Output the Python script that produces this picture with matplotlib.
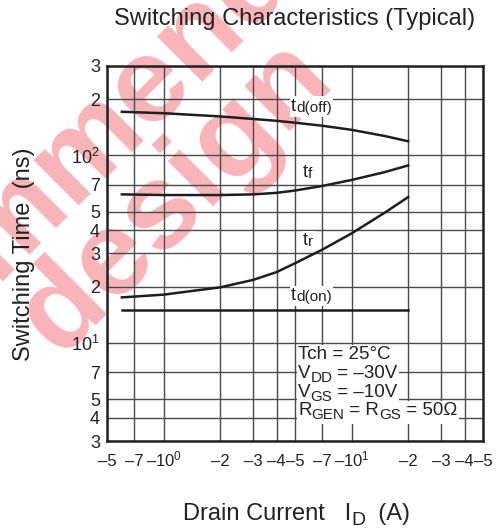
import matplotlib
matplotlib.use("Agg")
import matplotlib.pyplot as plt
from matplotlib.patches import Rectangle

plt.rcParams['font.family'] = ['Liberation Sans', 'DejaVu Sans']
plt.rcParams['mathtext.default'] = 'regular'
plt.rcParams['mathtext.fontset'] = 'custom'
plt.rcParams['mathtext.rm'] = 'Liberation Sans'

# ---------------- data ----------------
drain_current = [0.6, 1, 2, 3, 4, 5, 7, 10, 15, 20]             # |I_D| (A)
t_d_off = [171, 168, 161.5, 156.5, 153, 149.5, 144, 137, 127, 119]  # ns
t_f = [62, 61.5, 61.5, 62, 63.2, 65, 68.8, 74, 81.5, 88.5]        # ns
t_r = [17.5, 18.1, 19.8, 21.7, 23.9, 26.6, 31.5, 38.4, 49.5, 60]  # ns
drain_current_on = [0.6, 20]
t_d_on = [15, 15]

x_ticks = [0.5, 0.7, 1, 2, 3, 4, 5, 7, 10, 20, 30, 40, 50]
x_ticklabels = ['\u20135', '\u20137', '$\u201310^{0}$', '\u20132', '\u20133', '\u20134', '\u20135',
                '\u20137', '$\u201310^{1}$', '\u20132', '\u20133', '\u20134', '\u20135']
y_ticks = [3, 4, 5, 7, 10, 20, 30, 40, 50, 70, 100, 200, 300]
y_ticklabels = ['3', '4', '5', '7', '$10^{1}$', '2', '3', '4', '5', '7', '$10^{2}$', '2', '3']

W, H = 499, 529
fig = plt.figure(figsize=(W / 100, H / 100), dpi=100)
fig.patch.set_facecolor('white')

def fx(px):
    return px / W

def fy(py):
    return 1 - py / H

L, R, T, B = 107, 483, 66, 441
ax = fig.add_axes([fx(L), fy(B), fx(R - L), (B - T) / H])
ax.patch.set_alpha(0)
ax.set_xscale('log')
ax.set_yscale('log')
ax.set_xlim(0.5, 50)
ax.set_ylim(3, 300)
ax.set_xticks(x_ticks)
ax.set_xticklabels(x_ticklabels)
ax.set_yticks(y_ticks)
ax.set_yticklabels(y_ticklabels)
ax.minorticks_off()
ax.tick_params(length=0, colors='#222222')
ax.tick_params(axis='x', labelsize=12, pad=18)
ax.tick_params(axis='y', labelsize=13, pad=5)
for tk in ax.xaxis.get_major_ticks():
    tk.label1.set_verticalalignment('baseline')
ax.grid(True, which='major', color='#4a4a4a', lw=1.0)
ax.set_axisbelow(True)
for s in ax.spines.values():
    s.set_linewidth(1.8)
    s.set_color('#222222')

lc = '#1e1e1e'
ax.plot(drain_current, t_d_off, color=lc, lw=1.8, zorder=3)
ax.plot(drain_current, t_f, color=lc, lw=1.8, zorder=3)
ax.plot(drain_current, t_r, color=lc, lw=1.8, zorder=3)
ax.plot(drain_current_on, t_d_on, color=lc, lw=1.8, zorder=3)

renderer = fig.canvas.get_renderer()

def rich(x, y, pieces, pad=1.5, bg=True):
    """pieces: (text, fontsize, dy_px). x,y = baseline-left in figure pixels (top-left origin)."""
    cx = x
    boxes = []
    for txt, size, dy in pieces:
        t = fig.text(fx(cx), fy(y + dy), txt, fontsize=size, ha='left', va='baseline',
                     color='#222222', zorder=6)
        bb = t.get_window_extent(renderer)
        boxes.append(bb)
        cx += bb.width
    if bg:
        x0 = min(b.x0 for b in boxes) - pad
        x1 = max(b.x1 for b in boxes) + pad
        y0 = min(b.y0 for b in boxes) - pad
        y1 = max(b.y1 for b in boxes) + pad
        fig.patches.append(Rectangle((x0 / W, y0 / H), (x1 - x0) / W, (y1 - y0) / H,
                                     transform=fig.transFigure, facecolor='white',
                                     edgecolor='none', zorder=5))

# curve labels
rich(291, 111, [('t', 13, 0), ('d(off)', 11, 1)])
rich(303, 177, [('t', 13, 0), ('f', 11, 1)])
rich(303, 245, [('t', 13, 0), ('r', 11, 1)])
rich(291, 300, [('t', 13, 0), ('d(on)', 11, 1)])

# condition box
rich(298, 359, [('Tch = 25\u00b0C', 13.5, 0)])
rich(298, 378, [('V', 13.5, 0), ('DD', 11, 4), (' = \u201330V', 13.5, 0)])
rich(298, 397, [('V', 13.5, 0), ('GS', 11, 4), (' = \u201310V', 13.5, 0)])
rich(298, 415, [('R', 13.5, 0), ('GEN', 11, 4), (' = R', 13.5, 0), ('GS', 11, 4),
                (' = 50\u03a9', 13.5, 0)])

# titles
fig.text(fx(295), fy(19), 'Switching Characteristics (Typical)', fontsize=17,
         ha='center', va='center', color='#222222')
rich(183, 520, [('Drain Current   I', 17, 0), ('D', 14, 5), ('  (A)', 17, 0)], bg=False)
fig.text(fx(24), fy(254), 'Switching Time  (ns)', fontsize=17, rotation=90,
         ha='center', va='center', color='#222222')

# watermark (behind everything)
wm = dict(fontsize=87, fontweight='bold', color='#f8b4b9', rotation=45,
          rotation_mode='anchor', ha='center', va='center', zorder=-5)
fig.text(fx(85), fy(147), 'recommended', **wm)
fig.text(fx(175), fy(197), 'design', **wm)

fig.savefig('out.png', dpi=100, facecolor='white')
